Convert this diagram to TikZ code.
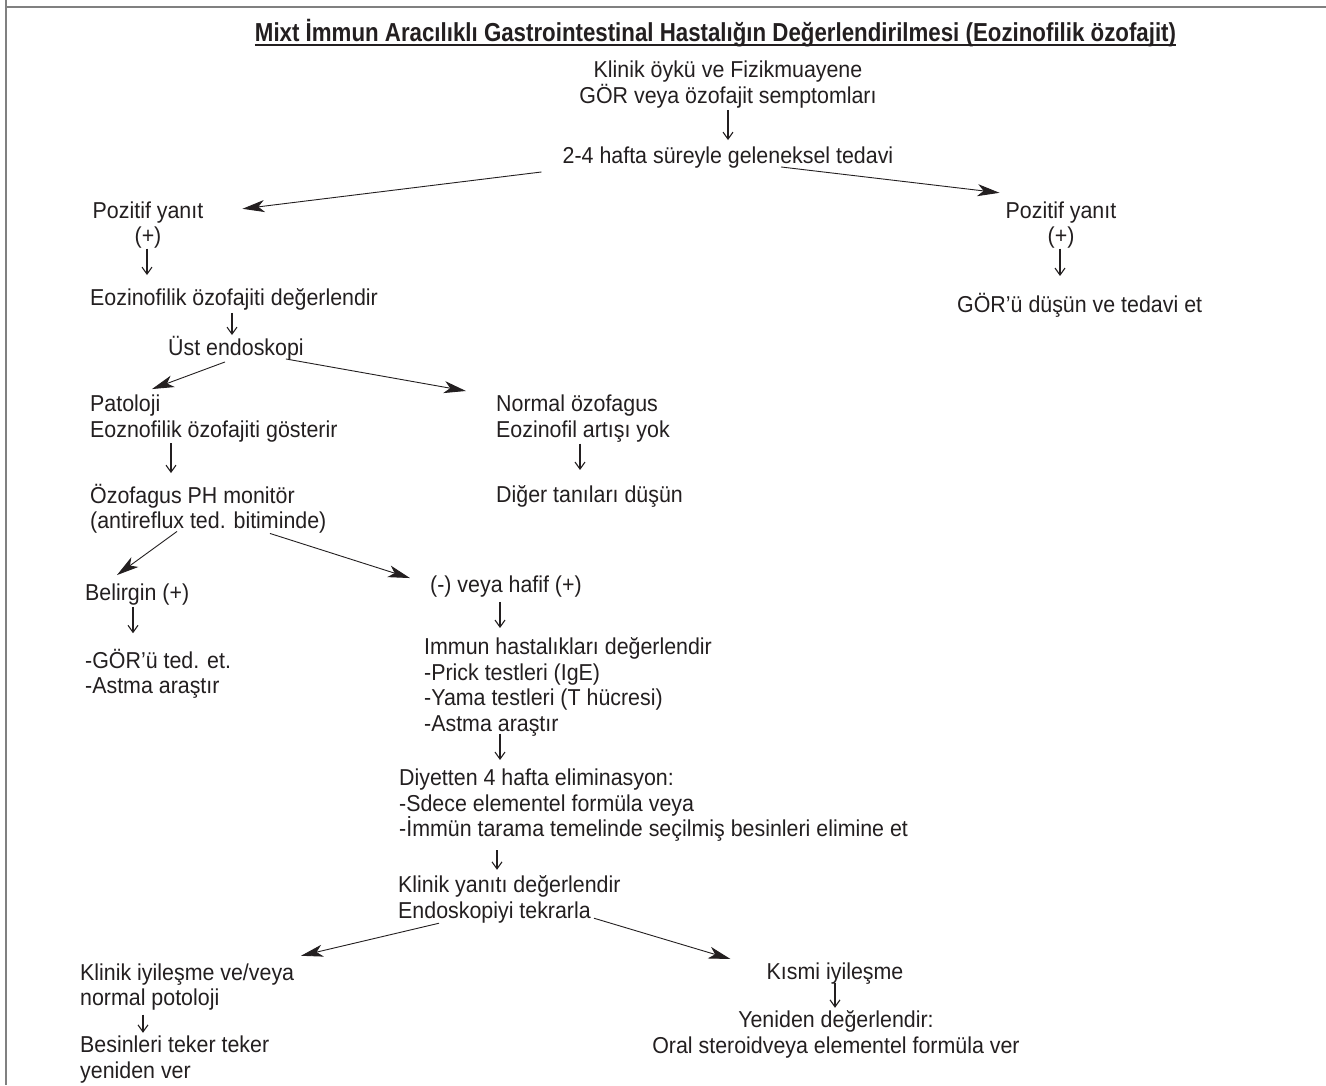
\documentclass[tikz,border=0pt]{standalone}
\usepackage{fontspec}
\setmainfont{Liberation Sans}[FakeStretch=0.93]
\usepackage{graphicx}
\usetikzlibrary{arrows.meta,calc}
\definecolor{ink}{HTML}{231F20}
\definecolor{framegrey}{HTML}{808080}
\newcommand\bodyf{\fontsize{23pt}{25.5pt}\selectfont\lineskiplimit=-100pt\relax}
\newcommand\lnst{\rule[-4.75pt]{0pt}{25.5pt}}
\tikzset{
  txt/.style={font=\bodyf, inner sep=0pt, text=ink, align=left, anchor=west},
  ctxt/.style={font=\bodyf, inner sep=0pt, text=ink, align=center},
  down/.style={draw=ink, line width=1.1pt, -{Straight Barb[length=7pt,width=10pt]}},
  big/.style={draw=ink, line width=0.9pt, -{Stealth[length=22pt,width=12pt,inset=6pt]}},
  rule/.style={draw=framegrey, line width=1.5pt}
}
\begin{document}
\begin{tikzpicture}[x=1pt,y=-1pt]
\useasboundingbox (0,0) rectangle (1326,1085);
\fill[white] (0,0) rectangle (1326,1085);
\draw[rule] (6,0) -- (6,1085);
\draw[rule] (6,7) -- (1326,7);

% title
\node[anchor=base, inner sep=0pt, text=ink, font=\fontsize{26pt}{30pt}\selectfont\bfseries] (title) at (715.5,41.5)
  {\resizebox{921pt}{\height}{Mixt İmmun Aracılıklı Gastrointestinal Hastalığın Değerlendirilmesi (Eozinofilik özofajit)}};
\draw[ink, line width=1.4pt] ($(title.base west)+(0,3.5)$) -- ($(title.base east)+(0,3.5)$);

% nodes
\node[ctxt] (n1) at (728,82.5) {\lnst Klinik öykü ve Fizikmuayene\\\lnst GÖR veya özofajit semptomları};
\node[ctxt] (n2) at (728,156) {\lnst 2-4 hafta süreyle geleneksel tedavi};
\node[ctxt] (pozl) at (148,223) {\lnst Pozitif yanıt\\\lnst (+)};
\node[ctxt] (pozr) at (1061,223) {\lnst Pozitif yanıt\\\lnst (+)};
\node[txt] (gort) at (957,305) {\lnst GÖR’ü düşün ve tedavi et};
\node[txt] (eoz) at (90,298) {\lnst Eozinofilik özofajiti değerlendir};
\node[txt] (ust) at (168,348) {\lnst Üst endoskopi};
\node[txt] (pat) at (90,416.75) {\lnst Patoloji\\\lnst Eoznofilik özofajiti gösterir};
\node[txt] (nor) at (496,416.75) {\lnst Normal özofagus\\\lnst Eozinofil artışı yok};
\node[txt] (dig) at (496,495) {\lnst Diğer tanıları düşün};
\node[txt] (ph) at (90,507.75) {\lnst Özofagus PH monitör\\\lnst (antireflux ted. bitiminde)};
\node[txt] (bel) at (85,593) {\lnst Belirgin (+)};
\node[txt] (gted) at (85,673) {\lnst -GÖR’ü ted. et.\\\lnst -Astma araştır};
\node[txt] (neg) at (430,585) {\lnst (-) veya hafif (+)};
\node[txt] (imm) at (424,685.25) {\lnst Immun hastalıkları değerlendir\\\lnst -Prick testleri (IgE)\\\lnst -Yama testleri (T hücresi)\\\lnst -Astma araştır};
\node[txt] (diy) at (399,803.5) {\lnst Diyetten 4 hafta eliminasyon:\\\lnst -Sdece elementel formüla veya\\\lnst -İmmün tarama temelinde seçilmiş besinleri elimine et};
\node[txt] (kyan) at (398,897.5) {\lnst Klinik yanıtı değerlendir\\\lnst Endoskopiyi tekrarla};
\node[txt] (kiy) at (80,985) {\lnst Klinik iyileşme ve/veya\\\lnst normal potoloji};
\node[txt] (bes) at (80,1057.5) {\lnst Besinleri teker teker\\\lnst yeniden ver};
\node[ctxt] (kis) at (835,972) {\lnst Kısmi iyileşme};
\node[ctxt] (yen) at (836,1032.5) {\lnst Yeniden değerlendir:\\\lnst Oral steroidveya elementel formüla ver};

% small vertical arrows
\draw[down] ($(n1.south)+(0,2)$) -- ($(n2.north)+(0,-3)$);
\draw[down] ($(pozl.south)+(-1,0)$) -- ($(eoz.north west)+(57,-10)$);
\draw[down] ($(pozr.south)+(-1,0)$) -- ($(gort.north west)+(103,-16)$);
\draw[down] ($(eoz.south west)+(142,2)$) -- ($(ust.north west)+(64,0)$);
\draw[down] ($(pat.south west)+(81,1)$) -- ($(ph.north west)+(81,-9)$);
\draw[down] ($(nor.south west)+(84,1)$) -- ($(dig.north west)+(84,-12)$);
\draw[down] ($(bel.south west)+(48,1)$) -- ($(gted.north west)+(48,-14)$);
\draw[down] ($(neg.south west)+(70,4)$) -- ($(imm.north west)+(76,-6)$);
\draw[down] ($(imm.south west)+(76,-3)$) -- ($(diy.north west)+(101,-5)$);
\draw[down] ($(diy.south west)+(98,8)$) -- ($(kyan.north west)+(99,-2)$);
\draw[down] ($(kiy.south west)+(63,4)$) -- ($(bes.north west)+(63,1)$);
\draw[down] ($(kis.south)+(0,-2)$) -- ($(yen.north)+(-1,1)$);

% long arrows
\draw[big] ($(n2.south west)+(-21,3)$) -- ($(pozl.north east)+(39,11.5)$);
\draw[big] ($(n2.south)+(53,-2)$) -- ($(pozr.north west)+(-6,-4.5)$);
\draw[big] ($(ust.south west)+(57,1)$) -- ($(pat.north west)+(62,-2)$);
\draw[big] ($(ust.south east)+(-18,-2)$) -- ($(nor.north west)+(-30,0)$);
\draw[big] ($(ph.south west)+(87,-2)$) -- ($(bel.north west)+(32,-5)$);
\draw[big] ($(ph.south west)+(180,0)$) -- ($(neg.north west)+(-20,6)$);
\draw[big] ($(kyan.south west)+(41,0)$) -- ($(kiy.north west)+(221,-3.5)$);
\draw[big] ($(kyan.south west)+(196,-5)$) -- ($(kis.north west)+(-36,0)$);
\end{tikzpicture}
\end{document}
